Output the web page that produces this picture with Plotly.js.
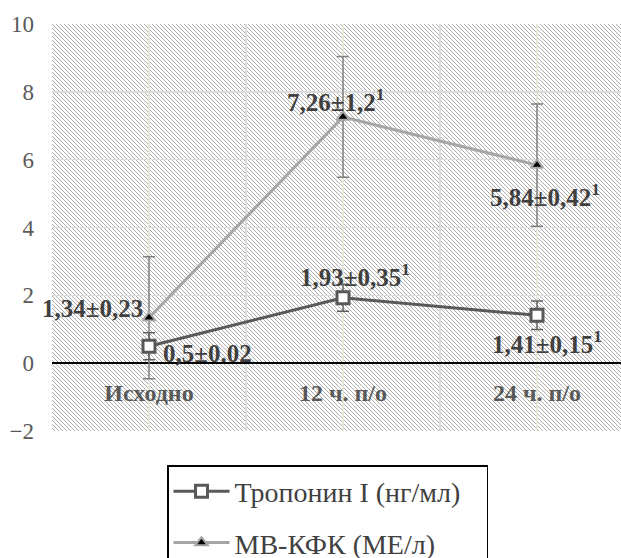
<!DOCTYPE html>
<html>
<head>
<meta charset="utf-8">
<script src="https://cdn.plot.ly/plotly-3.0.1.min.js"></script>
<style>
html,body{margin:0;padding:0;overflow:hidden;background:#fff;}
#wrap{position:relative;width:640px;height:590px;}
#hatch{position:absolute;left:52px;top:24px;width:582px;height:407px;background-color:#fff;
  background-image:url("data:image/svg+xml,%3Csvg xmlns='http://www.w3.org/2000/svg' width='4' height='4'%3E%3Cpath d='M0,0 L4,4 M-1,3 L1,5 M3,-1 L5,1' stroke='%23a4a4a4' stroke-width='0.9'/%3E%3C/svg%3E");
  background-size:4px 4px;}
#chart{position:absolute;left:0;top:0;width:640px;height:590px;}
</style>
</head>
<body>
<div id="wrap"><div id="hatch"></div><div id="chart"></div></div>
<script>
const categories = ['Исходно', '12 ч. п/о', '24 ч. п/о'];
const troponin = [0.5, 1.93, 1.41];
const troponinErr = [0.4, 0.4, 0.42];
const troponinLabels = ['0,5±0.02', '1,93±0,35<sup>1</sup>', '1,41±0,15<sup>1</sup>'];
const mbkfk = [1.34, 7.26, 5.84];
const mbkfkErr = [1.8, 1.78, 1.8];
const mbkfkLabels = ['1,34±0,23', '7,26±1,2<sup>1</sup>', '5,84±0,42<sup>1</sup>'];
const yTicks = [-2, 0, 2, 4, 6, 8, 10];
const seriesNames = ['Тропонин I (нг/мл)', 'МВ-КФК (МЕ/л)'];

const xIdx = categories.map((c, i) => i);
const serif = 'Liberation Serif, Times New Roman, serif';
const pad = '\u00a0\u00a0\u00a0';

const traceMB = {
  x: xIdx, y: mbkfk, type: 'scatter', mode: 'lines+markers',
  name: seriesNames[1] + pad, legendgroup: 'b', legendrank: 2,
  line: {color: '#a6a6a6', width: 3},
  marker: {symbol: 'triangle-up', size: 11, color: '#000', line: {color: '#a6a6a6', width: 2}},
  error_y: {type: 'data', array: mbkfkErr, visible: true, color: '#808080', thickness: 1.5, width: 6},
  hoverinfo: 'skip'
};
const traceTrop = {
  x: xIdx, y: troponin, type: 'scatter', mode: 'lines+markers',
  name: seriesNames[0] + pad, legendgroup: 'a', legendrank: 1,
  line: {color: '#595959', width: 3},
  marker: {symbol: 'square', size: 12, color: '#fff', line: {color: '#595959', width: 3}},
  error_y: {type: 'data', array: troponinErr, visible: true, color: '#606060', thickness: 1.5, width: 6},
  hoverinfo: 'skip'
};

// label placement offsets (px)
const mbOff = [{xa: 'right', xs: -4, ys: 9}, {xa: 'center', xs: -8, ys: 17}, {xa: 'center', xs: 8, ys: -30}];
const trOff = [{xa: 'left', xs: 12, ys: -7}, {xa: 'center', xs: 12, ys: 23}, {xa: 'center', xs: 10, ys: -27}];
const annFont = {family: serif, size: 25, color: '#404040'};
const annotations = [];
xIdx.forEach((x, i) => {
  annotations.push({x: x, y: mbkfk[i], xref: 'x', yref: 'y', text: '<b>' + mbkfkLabels[i] + '</b>',
    showarrow: false, xanchor: mbOff[i].xa, yanchor: 'middle', xshift: mbOff[i].xs, yshift: mbOff[i].ys, font: annFont});
  annotations.push({x: x, y: troponin[i], xref: 'x', yref: 'y', text: '<b>' + troponinLabels[i] + '</b>',
    showarrow: false, xanchor: trOff[i].xa, yanchor: 'middle', xshift: trOff[i].xs, yshift: trOff[i].ys, font: annFont});
});

const layout = {
  width: 640, height: 590,
  margin: {l: 52, r: 6, t: 24, b: 159, autoexpand: false},
  paper_bgcolor: 'rgba(0,0,0,0)', plot_bgcolor: 'rgba(0,0,0,0)',
  showlegend: true,
  xaxis: {
    range: [-0.5, 2.5], tickmode: 'array', tickvals: xIdx,
    ticktext: categories.map(c => '<b>' + c + '</b>'),
    tickfont: {family: serif, size: 24, color: '#595959'},
    tickangle: 0,
    showgrid: true, gridcolor: '#e6e6da', gridwidth: 1.5,
    minor: {tickmode: 'array', tickvals: [-0.5, 0.5, 1.5, 2.5], showgrid: true, gridcolor: '#dcdcdc', gridwidth: 1.5, ticks: ''},
    zeroline: false, showline: false, ticks: '',
    anchor: 'free', position: 2 / 12, ticklabelstandoff: 13, fixedrange: true
  },
  yaxis: {
    range: [-2, 10], tickmode: 'array', tickvals: yTicks,
    tickfont: {family: serif, size: 23, color: '#595959'},
    showgrid: true, gridcolor: '#dcdcdc', gridwidth: 1.5,
    zeroline: true, zerolinecolor: '#000', zerolinewidth: 2,
    showline: false, ticks: '', ticklabelstandoff: 17, fixedrange: true
  },
  legend: {
    xref: 'container', yref: 'container', x: 167 / 640, y: 1 - 465 / 590,
    xanchor: 'left', yanchor: 'top',
    bordercolor: '#000', borderwidth: 1.5, bgcolor: '#fff',
    font: {family: serif, size: 28, color: '#404040'},
    traceorder: 'grouped', tracegroupgap: 12, itemwidth: 56
  },
  annotations: annotations
};

Plotly.newPlot('chart', [traceMB, traceTrop], layout, {staticPlot: true, displayModeBar: false});
</script>
</body>
</html>
